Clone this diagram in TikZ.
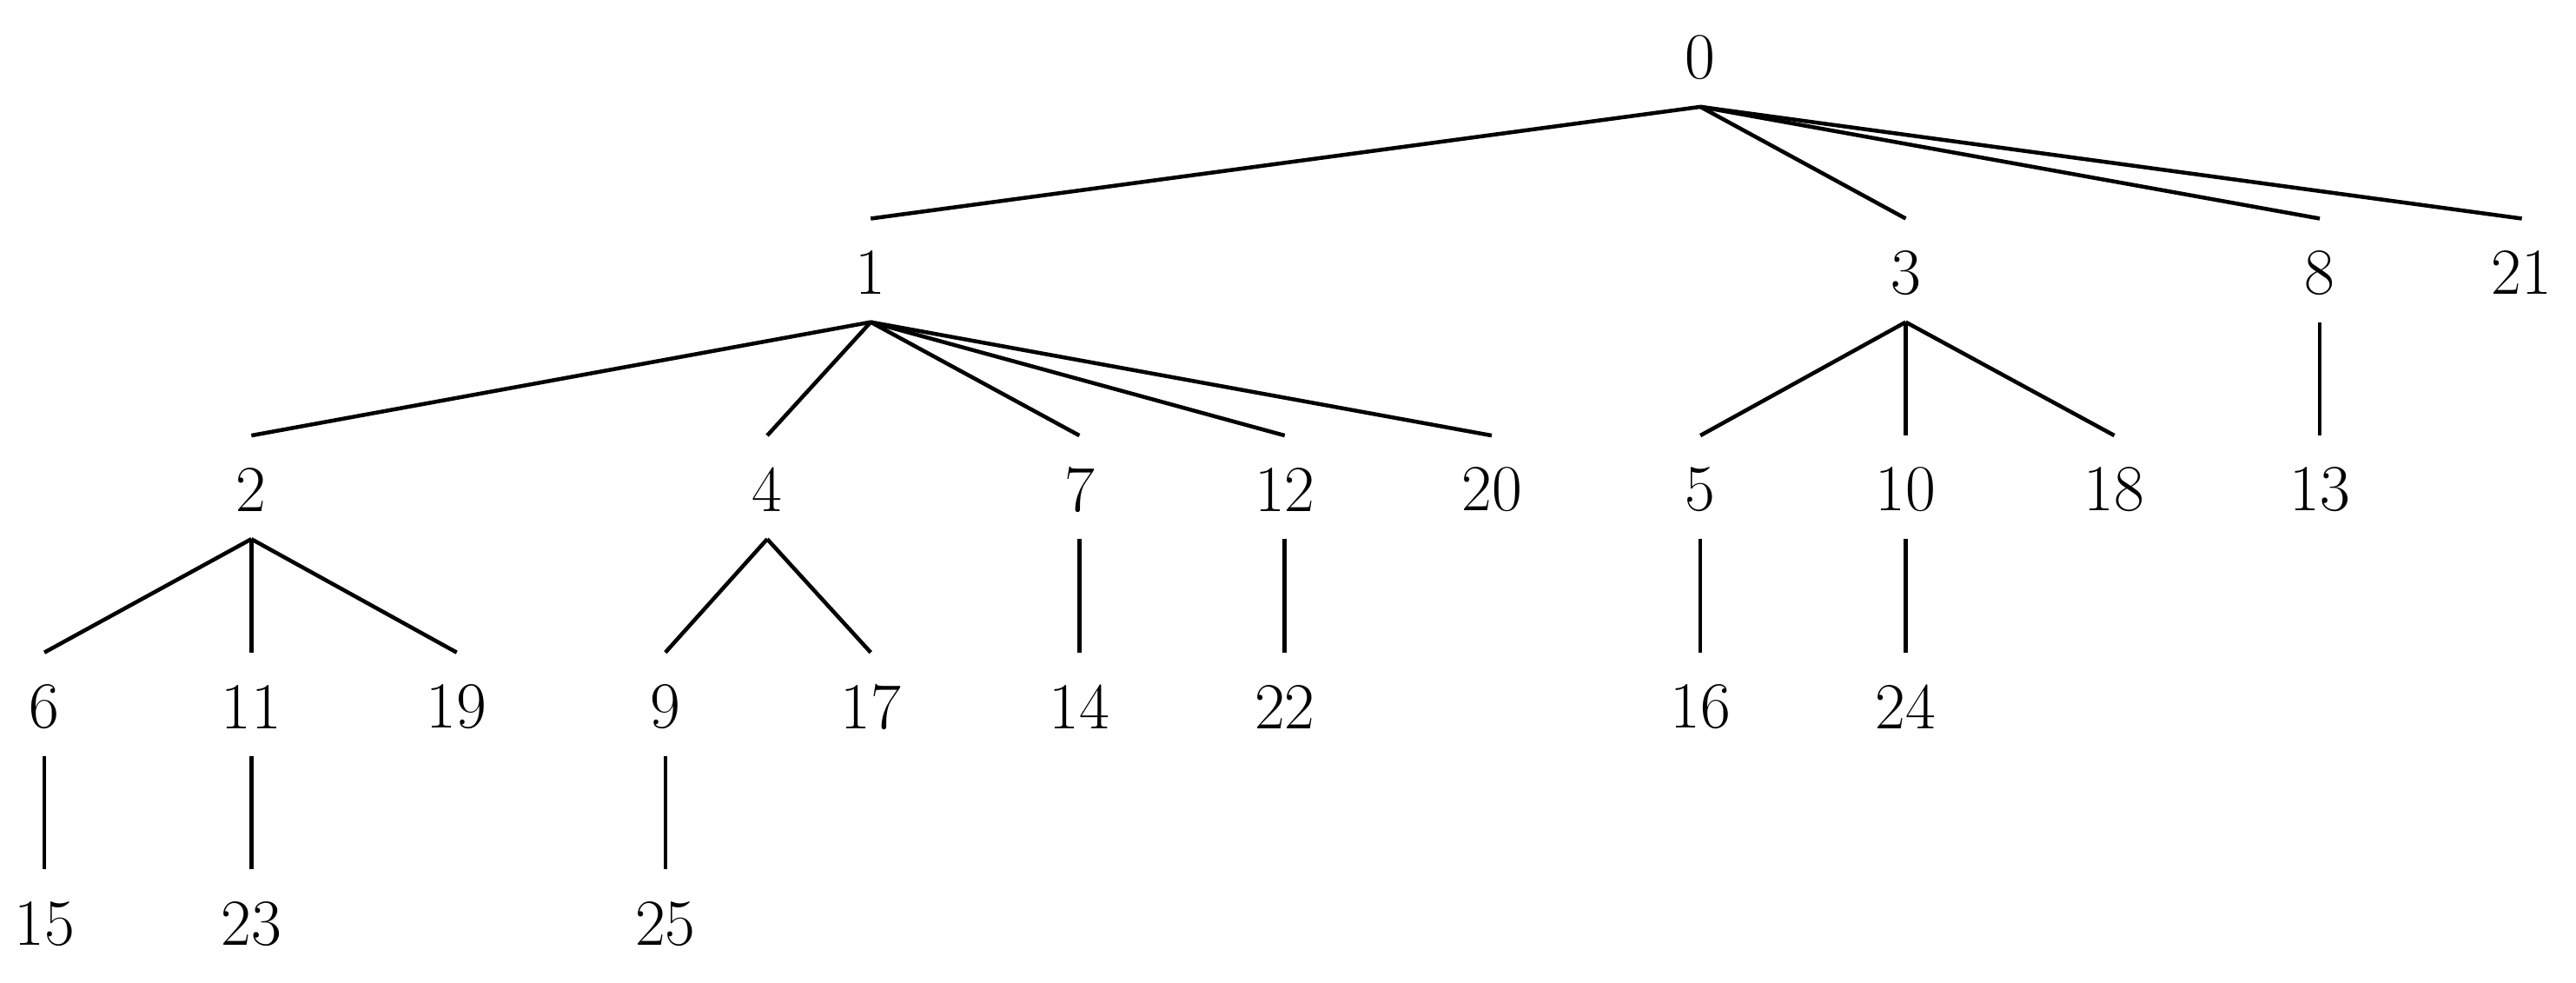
\documentclass[tikz,border=0pt]{standalone}
\usetikzlibrary{calc}
\begin{document}
\begin{tikzpicture}[x=0.5pt,y=-0.5pt,lbl/.style={font=\fontsize{20}{24}\selectfont,inner sep=0pt},edge/.style={line width=1.2pt}]
\useasboundingbox (0,0) rectangle (1568,598);
\foreach \n/\x/\y in {0/1035/35,1/530/166,3/1160/166,8/1412/166,21/1535/166,
 2/153/298,4/467/298,7/657/298,12/782/298,20/908/298,5/1035/298,10/1160/298,18/1287/298,13/1412/298,
 6/27/430,11/153/430,19/278/430,9/405/430,17/530/430,14/657/430,22/782/430,16/1035/430,24/1160/430,
 15/27/562,23/153/562,25/405/562}
 \node[lbl] (n\n) at (\x,\y) {\n};
\foreach \a/\b in {0/1,0/3,0/8,0/21,1/2,1/4,1/7,1/12,1/20,3/5,3/10,3/18,8/13,
 2/6,2/11,2/19,4/9,4/17,7/14,12/22,5/16,10/24,6/15,11/23,9/25}
 \draw[edge] ($(n\a)+(0,30)$) -- ($(n\b)+(0,-33)$);
\end{tikzpicture}
\end{document}
